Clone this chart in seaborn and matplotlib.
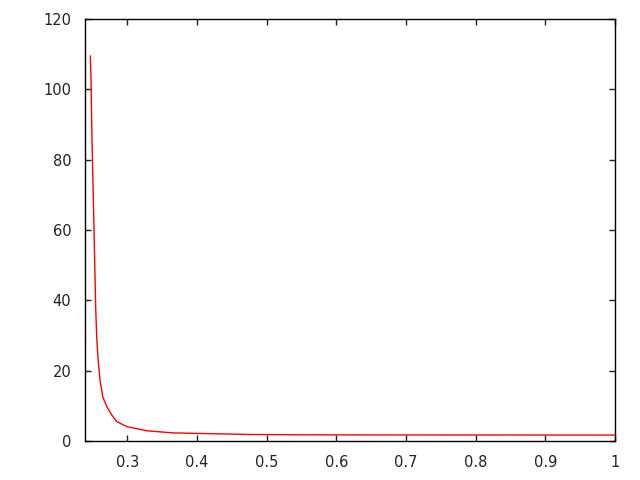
"""
Recreate a gnuplot-style decay curve with seaborn.

Output:
    out.png
"""

import pandas as pd
import matplotlib

matplotlib.use("Agg")
import matplotlib.pyplot as plt
import seaborn as sns


# values
x_values = [
    0.2472, 0.2482, 0.2492, 0.2506, 0.2521, 0.2535, 0.2549, 0.2564,
    0.2582, 0.2611, 0.2650, 0.2707, 0.2779, 0.2851, 0.2994, 0.3185,
    0.3280, 0.3472, 0.3658, 0.4000, 0.4400, 0.4750, 0.5500, 0.6500,
    0.8000, 1.0000,
]
y_values = [
    109.5, 103.0, 89.8, 76.8, 63.8, 50.7, 37.8, 29.3,
    23.6, 17.3, 12.6, 9.8, 7.4, 5.5, 4.1, 3.3,
    2.9, 2.6, 2.3, 2.15, 2.0, 1.85, 1.75, 1.72,
    1.70, 1.68,
]
x_ticks = [0.3, 0.4, 0.5, 0.6, 0.7, 0.8, 0.9, 1.0]
x_tick_labels = ["0.3", "0.4", "0.5", "0.6", "0.7", "0.8", "0.9", "1"]
y_ticks = [0, 20, 40, 60, 80, 100, 120]


def configure_matplotlib() -> None:
    sns.set_style("ticks")
    plt.rcParams["font.family"] = ["DejaVu Sans"]
    plt.rcParams["font.size"] = 10.5
    plt.rcParams["xtick.direction"] = "in"
    plt.rcParams["ytick.direction"] = "in"
    plt.rcParams["xtick.top"] = True
    plt.rcParams["ytick.right"] = True
    plt.rcParams["axes.edgecolor"] = "black"
    plt.rcParams["axes.linewidth"] = 1.0


def main() -> None:
    configure_matplotlib()
    df = pd.DataFrame({"x": x_values, "y": y_values})

    fig = plt.figure(figsize=(6.4, 4.8), dpi=100)
    ax = fig.add_axes([0.1333, 0.0813, 0.961 - 0.1333, 0.9604 - 0.0813])
    sns.lineplot(data=df, x="x", y="y", color="red", linewidth=1.0, ax=ax)

    ax.set_xlim(0.24, 1.0)
    ax.set_ylim(0, 120)
    ax.set_xticks(x_ticks)
    ax.set_xticklabels(x_tick_labels)
    ax.set_yticks(y_ticks)
    ax.tick_params(axis="both", length=4.5, width=1.0, colors="#222222", pad=10, labelsize=10.5)
    ax.set_xlabel("")
    ax.set_ylabel("")
    for spine in ax.spines.values():
        spine.set_visible(True)
        spine.set_color("black")

    fig.savefig("out.png", dpi=100)
    plt.close(fig)


if __name__ == "__main__":
    main()
